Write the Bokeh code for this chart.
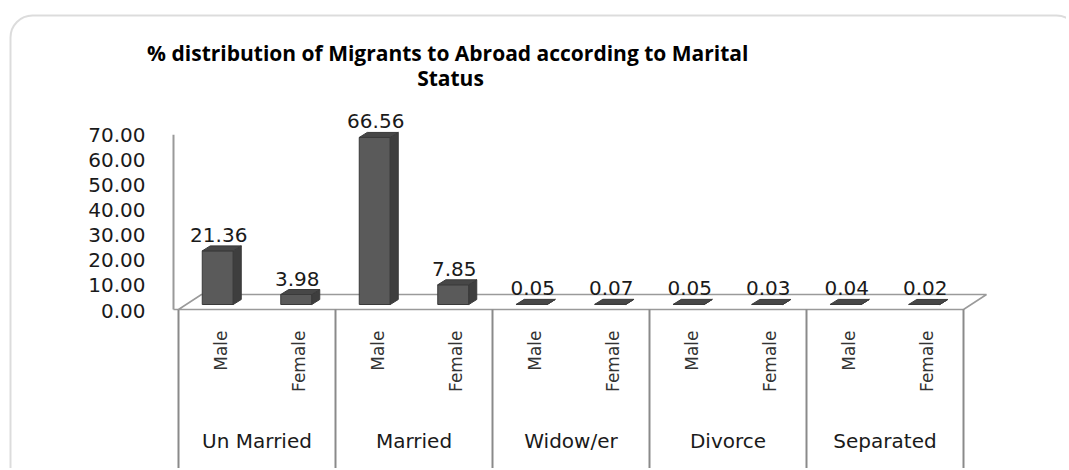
import math
from bokeh.plotting import figure
from bokeh.models import Range1d, BoxAnnotation
from bokeh.core.properties import value
from bokeh.embed import file_html
from bokeh.resources import INLINE

# ---------------- data ----------------
groups = ["Un Married", "Married", "Widow/er", "Divorce", "Separated"]
sexes = ["Male", "Female"]
male_pct = [21.36, 66.56, 0.05, 0.05, 0.04]
female_pct = [3.98, 7.85, 0.07, 0.03, 0.02]
y_ticks = [0, 10, 20, 30, 40, 50, 60, 70]
title_lines = ["% distribution of  Migrants to Abroad according to Marital", "Status"]

# ---------------- geometry (canvas pixels) ----------------
W, H = 1066, 468
X0_C = 178.0      # canvas x of first slot's left edge
SLOT_PX = 78.5    # pixels per bar slot
Y0_C = 304.0      # canvas y of value 0
VAL_PX = 2.51     # pixels per percent
AXIS_SHIFT_PX = 6  # tick labels sit a little lower than the bar base

def cx(px):
    return (px - X0_C) / SLOT_PX

def cy(py):
    return (Y0_C - py) / VAL_PX

def dx(px):
    return px / SLOT_PX

def dy(px):
    return px / VAL_PX

x_range = Range1d(cx(0), cx(W))
y_range = Range1d(cy(H), cy(0))

p = figure(width=W, height=H, x_range=x_range, y_range=y_range,
           output_backend="svg", toolbar_location=None,
           x_axis_location=None, y_axis_location=None,
           min_border_left=0, min_border_right=0,
           min_border_top=0, min_border_bottom=0)
p.grid.visible = False
p.outline_line_color = None
p.background_fill_color = "white"
p.border_fill_color = "white"

# ---------------- outer rounded border ----------------
p.add_layout(BoxAnnotation(left=10, right=1078, top=15, bottom=520,
                           left_units="canvas", right_units="canvas",
                           top_units="canvas", bottom_units="canvas",
                           fill_color=None, line_color="#8c8c8c", line_width=2,
                           border_radius=22, level="underlay"))

# ---------------- value axis labels ----------------
shift = dy(AXIS_SHIFT_PX)
p.text(x=[cx(145)] * len(y_ticks), y=[t - shift for t in y_ticks],
       text=[f"{t:.2f}" for t in y_ticks], text_align="right", text_baseline="middle",
       text_font=value("DejaVu Sans"), text_font_size="20px", text_color="#1a1a1a")

n_slots = len(groups) * len(sexes)
wall_top = max(y_ticks) - shift
floor_front = cy(309)
depth_x, depth_y = dx(23), dy(15)

# floor and wall
p.patch([0, n_slots, n_slots + depth_x, depth_x],
        [floor_front, floor_front, floor_front + depth_y, floor_front + depth_y],
        fill_color="white", line_color="#9a9a9a", line_width=1.5)
p.line([cx(173), cx(173)], [floor_front, wall_top], line_color="#9a9a9a", line_width=2)
p.line([cx(173), 0], [floor_front, floor_front], line_color="#9a9a9a", line_width=1.5)

# ---------------- bars ----------------
vals, xs_c = [], []
for gi in range(len(groups)):
    for si, series in enumerate([male_pct, female_pct]):
        vals.append(series[gi])
        xs_c.append(2 * gi + si + 0.5)

bw = dx(31)
bdx, bdy = dx(8), dy(5)
side_xs, side_ys, top_xs, top_ys = [], [], [], []
for xc, v in zip(xs_c, vals):
    xl, xr = xc - bw / 2, xc + bw / 2
    side_xs.append([xr, xr + bdx, xr + bdx, xr])
    side_ys.append([0, bdy, v + bdy, v])
    top_xs.append([xl, xr, xr + bdx, xl + bdx])
    top_ys.append([v, v, v + bdy, v + bdy])

p.vbar(x=xs_c, top=vals, bottom=0, width=bw, fill_color="#5a5a5a",
       line_color="#3a3a3a", line_width=1)
p.patches(side_xs, side_ys, fill_color="#3e3e3e", line_color="#3a3a3a", line_width=1)
p.patches(top_xs, top_ys, fill_color="#474747", line_color="#3a3a3a", line_width=1)

# value labels
p.text(x=[x + dx(1) for x in xs_c], y=vals, text=[f"{v:.2f}" for v in vals],
       text_align="center", text_baseline="bottom", y_offset=-9,
       text_font=value("DejaVu Sans"), text_font_size="20px", text_color="#1a1a1a")

# ---------------- category axis (two levels) ----------------
bottom = cy(H + 20)
for k in range(0, n_slots + 1, 2):
    p.line([k, k], [floor_front, bottom], line_color="#8a8a8a", line_width=2)

sub_x = [i + 0.5 + dx(3) for i in range(n_slots)]
sub_t = [sexes[i % 2] for i in range(n_slots)]
p.text(x=sub_x, y=[cy(330)] * n_slots, text=sub_t, angle=math.pi / 2,
       text_align="right", text_baseline="middle",
       text_font=value("DejaVu Sans"), text_font_size="17px", text_color="#333333")

p.text(x=[2 * gi + 1 for gi in range(len(groups))], y=[cy(440)] * len(groups),
       text=groups, text_align="center", text_baseline="middle",
       text_font=value("DejaVu Sans"), text_font_size="20px", text_color="#1a1a1a")

# ---------------- title ----------------
p.text(x=[cx(450)] * 2, y=[cy(52), cy(77)], text=title_lines,
       text_align="center", text_baseline="middle",
       text_font=value("Open Sans"), text_font_style="bold",
       text_font_size="21px", text_color="#000000")

open("out.html", "w").write(file_html(p, INLINE))
